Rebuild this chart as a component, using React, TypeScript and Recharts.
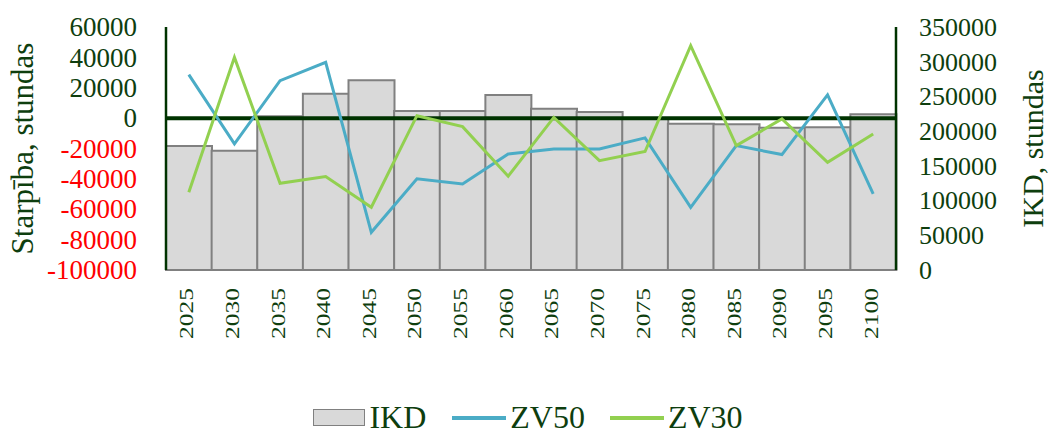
import React from 'react';
import { ComposedChart, Bar, Line, XAxis, YAxis, ReferenceLine, Legend } from 'recharts';

const years = ['2025', '2030', '2035', '2040', '2045', '2050', '2055', '2060', '2065', '2070', '2075', '2080', '2085', '2090', '2095', '2100'];
const ikd = [178600, 171800, 221400, 253900, 273200, 229000, 229000, 252000, 232300, 227600, 218700, 210700, 209800, 205000, 205600, 224200];
const zv50 = [28600, -17000, 24700, 36700, -75200, -40000, -43300, -23600, -20300, -20300, -13000, -58700, -18100, -24000, 15300, -49900];
const zv30 = [-48800, 40000, -42900, -38500, -58700, 1600, -5600, -38300, 500, -28000, -22000, 47700, -18100, -500, -29100, -10400];
const leftTicks = [-100000, -80000, -60000, -40000, -20000, 0, 20000, 40000, 60000];
const rightTicks = [0, 50000, 100000, 150000, 200000, 250000, 300000, 350000];

const data = years.map((y, i) => ({ year: y, IKD: ikd[i], ZV50: zv50[i], ZV30: zv30[i] }));

const FONT = '"Liberation Serif", "Times New Roman", serif';
const TEXT = '#0E3E0E';
const AXIS = '#003300';
const BLUE = '#4BACC6';
const GREEN = '#92D050';
const SQUEEZE = 0.74;

const LeftTick = (props: any) => {
  const { x, y, payload } = props;
  const v = payload.value;
  return (
    <text x={x} y={y} dy="0.34em" textAnchor="end" fontSize={27} fontFamily={FONT} fill={v < 0 ? '#FF0000' : TEXT}>
      {v}
    </text>
  );
};

const RightTick = (props: any) => {
  const { x, y, payload } = props;
  return (
    <text x={x} y={y} dy="0.34em" textAnchor="start" fontSize={26} fontFamily={FONT} fill={TEXT}>
      {payload.value}
    </text>
  );
};

const XTick = (props: any) => {
  const { x, y, payload } = props;
  return (
    <text
      transform={`translate(${x},${y}) rotate(-90) scale(1,${SQUEEZE})`}
      dy="0.24em"
      textAnchor="end"
      fontSize={25.5}
      fontFamily={FONT}
      fill={TEXT}
    >
      {payload.value}
    </text>
  );
};

const LeftTitle = (props: any) => {
  const vb = props.viewBox || { x: 0, y: 0, width: 0, height: 0 };
  const cx = vb.x + 25;
  const cy = vb.y + vb.height / 2;
  return (
    <text
      transform={`translate(${cx},${cy}) rotate(-90)`}
      textAnchor="middle"
      fontSize={31}
      fontFamily={FONT}
      fill={TEXT}
    >
      Starpība, stundas
    </text>
  );
};

const RightTitle = (props: any) => {
  const vb = props.viewBox || { x: 0, y: 0, width: 0, height: 0 };
  const cx = vb.x + vb.width - 5;
  const cy = vb.y + vb.height / 2;
  return (
    <text
      transform={`translate(${cx},${cy}) rotate(-90)`}
      textAnchor="middle"
      fontSize={30}
      fontFamily={FONT}
      fill={TEXT}
    >
      IKD, stundas
    </text>
  );
};

const LegendContent = () => (
  <div
    style={{
      display: 'flex',
      justifyContent: 'center',
      alignItems: 'center',
      fontFamily: FONT,
      fontSize: 32,
      lineHeight: 'normal',
      color: TEXT,
      whiteSpace: 'nowrap',
    }}
  >
    <span style={{ display: 'inline-block', width: 50, height: 15, background: '#D9D9D9', border: '1.5px solid #808080', marginRight: 4 }} />
    <span style={{ marginRight: 26 }}>IKD</span>
    <span style={{ display: 'inline-block', width: 54, height: 4, background: BLUE, marginRight: 4 }} />
    <span style={{ marginRight: 25 }}>ZV50</span>
    <span style={{ display: 'inline-block', width: 54, height: 4, background: GREEN, marginRight: 4 }} />
    <span>ZV30</span>
  </div>
);

export default function App() {
  return (
    <>
      <style>{'body{margin:0;overflow:hidden;}'}</style>
      <div style={{ width: 1040, height: 422, paddingLeft: 8, paddingTop: 8 }}>
        <ComposedChart
          width={1040}
          height={422}
          data={data}
          margin={{ top: 19, right: 0, left: 0, bottom: 0 }}
          barCategoryGap={0}
          barGap={0}
        >
          <XAxis
            dataKey="year"
            interval={0}
            height={160}
            tick={<XTick />}
            tickLine={false}
            tickSize={0}
            tickMargin={18}
            axisLine={{ stroke: '#808080', strokeWidth: 2 }}
          />
          <YAxis
            yAxisId="left"
            orientation="left"
            width={158}
            domain={[-100000, 60000]}
            ticks={leftTicks}
            interval={0}
            tick={<LeftTick />}
            tickLine={false}
            tickSize={0}
            tickMargin={29}
            axisLine={{ stroke: AXIS, strokeWidth: 2.5 }}
            label={<LeftTitle />}
          />
          <YAxis
            yAxisId="right"
            orientation="right"
            width={152}
            domain={[0, 350000]}
            ticks={rightTicks}
            interval={0}
            tick={<RightTick />}
            tickLine={false}
            tickSize={0}
            tickMargin={23}
            axisLine={{ stroke: AXIS, strokeWidth: 2.5 }}
            label={<RightTitle />}
          />
          <Bar yAxisId="right" dataKey="IKD" fill="#D9D9D9" stroke="#808080" strokeWidth={2} isAnimationActive={false} />
          <ReferenceLine yAxisId="left" y={0} stroke={AXIS} strokeWidth={4} />
          <Line yAxisId="left" type="linear" dataKey="ZV50" stroke={BLUE} strokeWidth={3} dot={false} activeDot={false} isAnimationActive={false} />
          <Line yAxisId="left" type="linear" dataKey="ZV30" stroke={GREEN} strokeWidth={3} dot={false} activeDot={false} isAnimationActive={false} />
          <Legend
            layout="horizontal"
            verticalAlign="middle"
            align="center"
            content={<LegendContent />}
            wrapperStyle={{ top: 391, left: 0, width: 1040 }}
          />
        </ComposedChart>
      </div>
    </>
  );
}
